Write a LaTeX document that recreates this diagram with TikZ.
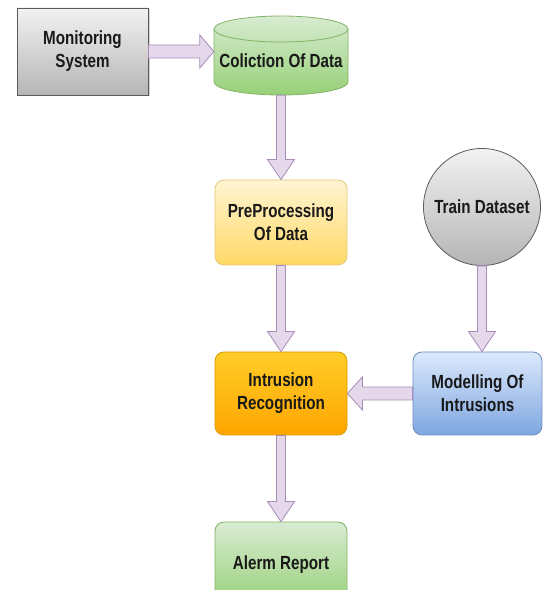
\documentclass[tikz,border=0pt]{standalone}
\usepackage{fontspec}
\newfontfamily\dfont{Liberation Sans}[FakeStretch=0.8]
\usetikzlibrary{calc,shadows}
\definecolor{arrfill}{HTML}{E4D8EA}
\definecolor{arrline}{HTML}{A78CB8}
\definecolor{monTop}{HTML}{F2F2F2}
\definecolor{monBot}{HTML}{B5B5B5}
\definecolor{monLine}{HTML}{5A5A5A}
\definecolor{colTop}{HTML}{D8EBD2}
\definecolor{colBot}{HTML}{97D077}
\definecolor{colLine}{HTML}{82B366}
\definecolor{preTop}{HTML}{FFF4D2}
\definecolor{preBot}{HTML}{FFD966}
\definecolor{preLine}{HTML}{E3C77A}
\definecolor{intTop}{HTML}{FFCD28}
\definecolor{intBot}{HTML}{FFA500}
\definecolor{intLine}{HTML}{D79B00}
\definecolor{modTop}{HTML}{DCE9FC}
\definecolor{modBot}{HTML}{7EA6E0}
\definecolor{modLine}{HTML}{6C8EBF}
\newcommand\flexarrow[5]{%
  \coordinate (fa-h) at ($(#2)!#5!(#1)$);
  \draw[flexst] ($(#1)!#3!90:(#2)$) -- ($(fa-h)!#3!-90:(#1)$) -- ($(fa-h)!#4!-90:(#1)$) -- (#2)
    -- ($(fa-h)!#4!90:(#1)$) -- ($(fa-h)!#3!90:(#1)$) -- ($(#1)!#3!-90:(#2)$) -- cycle;}
\tikzset{
  txt/.style={align=center, font=\dfont\bfseries\fontsize{19}{23}\selectfont, text=black!90},
  box/.style={txt, rounded corners=9pt, minimum width=132pt, minimum height=85pt, inner sep=0pt, line width=0.8pt},
  flexst/.style={fill=arrfill, draw=arrline, line width=0.8pt, line join=miter},
}
\begin{document}
\begin{tikzpicture}[x=1pt,y=1pt]
\useasboundingbox (0,0) rectangle (543,590);
\clip (0,0) rectangle (543,590);
% Monitoring system
\node[box, rounded corners=0pt, minimum width=131pt, minimum height=87pt, top color=monTop, bottom color=monBot, draw=monLine,
  drop shadow={shadow xshift=1.5pt, shadow yshift=-1.5pt, opacity=0.35}] (mon) at (82.5,538.5) {Monitoring\\System};
% Cylinder
\node[minimum width=134pt, minimum height=79pt, inner sep=0pt] (col) at (281,534.5) {};
\shade[top color=colTop, bottom color=colBot, draw=colLine, line width=0.8pt]
  (214,561) -- (214,508) arc[start angle=180,end angle=360,x radius=67,y radius=13]
  -- (348,561) arc[start angle=0,end angle=180,x radius=67,y radius=13] -- cycle;
\draw[colLine, line width=0.8pt] (214,561) arc[start angle=180,end angle=360,x radius=67,y radius=13];
\node[txt] (coltext) at (281,529) {Coliction Of Data};
% Other boxes
\node[box, top color=preTop, bottom color=preBot, draw=preLine] (pre) at (281,367.5) {PreProcessing\\Of Data};
\node[box, minimum height=83pt, top color=intTop, bottom color=intBot, draw=intLine] (intr) at (281,196.5) {Intrusion\\Recognition};
\node[box, minimum width=129pt, minimum height=83pt, top color=modTop, bottom color=modBot, draw=modLine] (model) at (477.5,196.5) {Modelling Of\\Intrusions};
\node[txt, circle, minimum size=117pt, inner sep=0pt, top color=monTop, bottom color=monBot, draw=monLine, line width=0.8pt] (train) at (482,383) {Train Dataset};
\node[box, top color=colTop, bottom color=colBot, draw=colLine] (alerm) at (281,25.5) {Alerm Report};
% Arrows
\flexarrow{mon.east}{mon.east -| col.west}{6.5pt}{16.5pt}{14pt}
\flexarrow{col.south}{pre.north}{4.5pt}{13.5pt}{20pt}
\flexarrow{pre.south}{intr.north}{4.5pt}{13.5pt}{20pt}
\flexarrow{train.south}{train.south |- model.north}{4.5pt}{13.5pt}{20pt}
\flexarrow{model.west}{intr.east}{6.5pt}{16.5pt}{15pt}
\flexarrow{intr.south}{alerm.north}{4.5pt}{13.5pt}{20pt}
\end{tikzpicture}
\end{document}
